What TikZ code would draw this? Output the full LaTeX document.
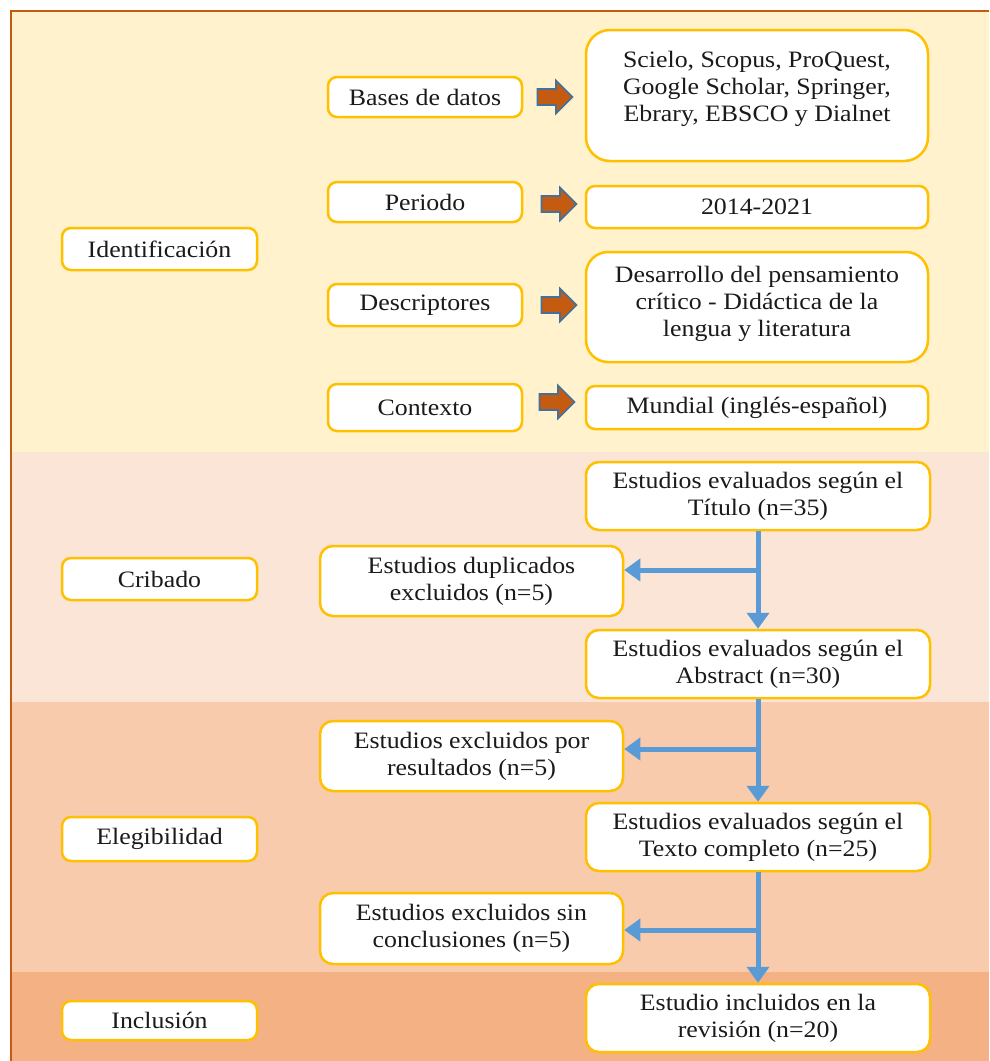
\documentclass[tikz,border=0pt]{standalone}
\usepackage{fontspec}
\setmainfont{Liberation Serif}[FakeStretch=1.1]
\usetikzlibrary{arrows.meta}
\definecolor{frameor}{HTML}{C55A11}
\definecolor{bandA}{HTML}{FFF2CC}
\definecolor{bandB}{HTML}{FBE5D6}
\definecolor{bandC}{HTML}{F8CBAD}
\definecolor{bandD}{HTML}{F4B183}
\definecolor{boxline}{HTML}{FFC000}
\definecolor{flowblue}{HTML}{5B9BD5}
\definecolor{arrfill}{HTML}{C55A11}
\definecolor{arrline}{HTML}{41719C}
\definecolor{txtcol}{HTML}{1A1A1A}
\tikzset{
  box/.style={draw=boxline, line width=2.5pt, fill=white, inner sep=0pt, align=center,
    text=txtcol, font=\fontsize{23.5}{27}\selectfont, rounded corners=9pt},
  stagebox/.style={box, minimum width=195pt, minimum height=42pt},
  midbox/.style={box, minimum width=194pt},
  rightbox/.style={box, minimum width=342pt},
  flowbox/.style={box, minimum width=344pt, minimum height=68pt, rounded corners=13pt},
  exbox/.style={box, minimum width=303pt, minimum height=70pt, rounded corners=13pt},
  plaintext/.style={inner sep=0pt, align=center, text=txtcol, font=\fontsize{23.5}{27}\selectfont},
  flow/.style={draw=flowblue, line width=5pt, -{Triangle[width=22pt,length=16pt]}},
  barrow/.pic={\draw[fill=arrfill, draw=arrline, line width=1.6pt]
    (-17.5,-8) -- (1,-8) -- (1,-16.5) -- (17.5,0) -- (1,16.5) -- (1,8) -- (-17.5,8) -- cycle;}
}
\begin{document}
\begin{tikzpicture}[x=1pt,y=-1pt]
\useasboundingbox (0,0) rectangle (989,1061);
\fill[white] (0,0) rectangle (989,1061);
% bands
\fill[bandA] (11,11) rectangle (989,452);
\fill[bandB] (11,452) rectangle (989,702);
\fill[bandC] (11,702) rectangle (989,972);
\fill[bandD] (11,972) rectangle (989,1061);
\draw[frameor, line width=2pt] (11,1061) -- (11,11) -- (989,11);

% stage boxes
\node[stagebox] (ident) at (159.5,249) {Identificación};
\node[stagebox] (crib) at (159.5,579) {Cribado};
\node[stagebox, minimum height=44pt] (eleg) at (159.5,839) {Elegibilidad};
\node[stagebox, minimum height=39pt] (incl) at (159.5,1020.5) {Inclusión};

% identification middle boxes
\node[midbox, minimum height=40pt] (bases) at (425,97) {Bases de datos};
\node[midbox, minimum height=40pt] (periodo) at (425,202) {Periodo};
\node[midbox, minimum height=42pt] (descr) at (425,305) {Descriptores};
\node[midbox, minimum height=47pt] (contexto) at (425,407.5) {Contexto};

% identification right boxes
\node[rightbox, minimum height=131pt, rounded corners=24pt] (scielo) at (757,95.5) {};
\node[plaintext] (scielotxt) at (757,89) {Scielo, Scopus, ProQuest,\\Google Scholar, Springer,\\Ebrary, EBSCO y Dialnet};
\node[rightbox, minimum height=42pt] (years) at (757,207) {2014-2021};
\node[rightbox, minimum height=110pt, rounded corners=22pt] (desarrollo) at (757,307) {};
\node[plaintext] (desarrollotxt) at (757,303.5) {Desarrollo del pensamiento\\crítico - Didáctica de la\\lengua y literatura};
\node[rightbox, minimum height=43pt] (mundial) at (757,407.5) {Mundial (inglés-español)};

% block arrows
\pic at (555,97) {barrow};
\pic at (559,204) {barrow};
\pic at (559,305) {barrow};
\pic at (557,402) {barrow};

% flow boxes
\node[flowbox] (titulo) at (758,496) {Estudios evaluados según el\\Título (n=35)};
\node[exbox] (dup) at (471.5,581) {Estudios duplicados\\excluidos (n=5)};
\node[flowbox] (abstract) at (758,664) {Estudios evaluados según el\\Abstract (n=30)};
\node[exbox] (result) at (471.5,756) {Estudios excluidos por\\resultados (n=5)};
\node[flowbox] (texto) at (758,837) {Estudios evaluados según el\\Texto completo (n=25)};
\node[exbox, minimum height=71pt] (sinconc) at (471.5,928.5) {Estudios excluidos sin\\conclusiones (n=5)};
\node[flowbox] (incluidos) at (758,1018) {Estudio incluidos en la\\revisión (n=20)};

% flow arrows
\draw[flow] (titulo.south) -- (abstract.north);
\draw[flow] (abstract.south) -- (texto.north);
\draw[flow] (texto.south) -- (incluidos.north);
\coordinate (j1) at (758,570);
\coordinate (j2) at (758,749);
\coordinate (j3) at (758,930);
\draw[flow] (j1) -- (j1 -| dup.east);
\draw[flow] (j2) -- (j2 -| result.east);
\draw[flow] (j3) -- (j3 -| sinconc.east);
\end{tikzpicture}
\end{document}
